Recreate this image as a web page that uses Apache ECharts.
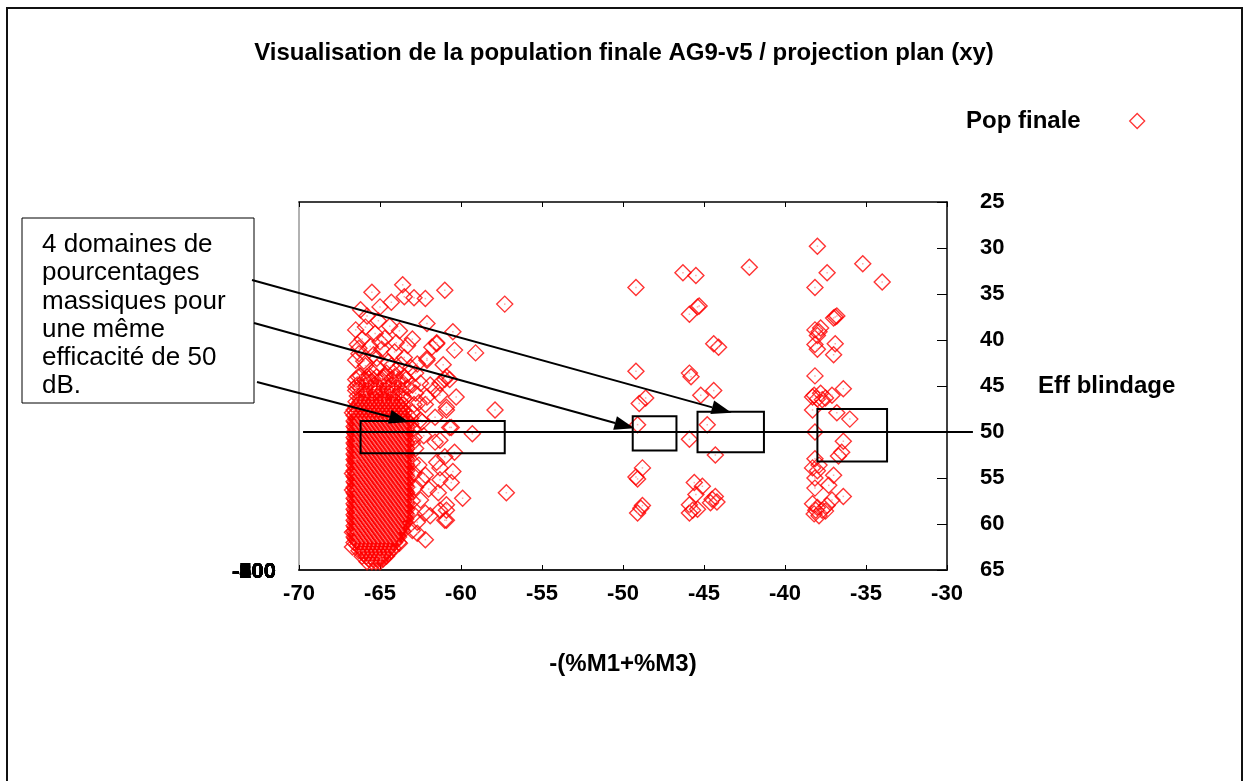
<!DOCTYPE html>
<html>
<head>
<meta charset="utf-8">
<script src="https://cdn.jsdelivr.net/npm/echarts@6/dist/echarts.min.js"></script>
<style>
  html, body { margin: 0; padding: 0; background: #ffffff; }
  #chart { width: 1248px; height: 781px; }
</style>
</head>
<body>
<div id="chart"></div>
<script>
// ---- texts ----
const chartTitle = 'Visualisation de la population finale AG9-v5 / projection plan (xy)';
const seriesName = 'Pop finale';
const xAxisName = '-(%M1+%M3)';
const yAxisName = 'Eff blindage';
const noteLines = ['4 domaines de', 'pourcentages', 'massiques pour', 'une même', 'efficacité de 50', 'dB.'];
const leftAxisLabels = ['-100', '-200', '-300', '-400', '-500', '-600', '-700', '-800', '-900'];

// ---- axes ----
const xRange = [-70, -30];
const xStep = 5;
const yRange = [25, 65];
const yStep = 5;
const targetEff = 50;

// ---- population: group around -(%M1+%M3) = -65, outer points ----
const groupA = [
  [-65.5, 34.8], [-63.6, 34.0], [-61.0, 34.6], [-63.5, 35.3], [-62.9, 35.4], [-62.2, 35.5],
  [-64.3, 35.9], [-57.3, 36.1], [-65.0, 36.4], [-66.2, 36.7], [-62.1, 38.2], [-60.5, 39.1],
  [-63.0, 39.9], [-61.5, 40.3], [-64.0, 40.3], [-59.1, 41.4], [-62.1, 42.2], [-61.1, 42.7],
  [-60.9, 44.0], [-62.5, 44.7], [-61.3, 44.7], [-60.7, 44.3], [-61.6, 45.4], [-62.1, 46.2],
  [-60.3, 46.2], [-57.9, 47.6], [-60.9, 47.3], [-61.6, 48.4], [-60.7, 49.5], [-59.3, 50.2],
  [-61.6, 51.1], [-63.0, 51.2], [-61.0, 52.7], [-61.5, 53.3], [-60.5, 54.3], [-61.3, 55.2],
  [-62.4, 55.2], [-59.9, 57.2], [-57.2, 56.6], [-60.9, 58.5], [-61.3, 58.5], [-62.2, 58.8],
  [-60.9, 59.6], [-62.7, 61.0], [-63.8, 62.1], [-65.0, 63.6], [-65.8, 64.1],
  [-66.7, 62.5], [-66.7, 60.9], [-66.5, 58.8], [-66.7, 56.3], [-66.7, 54.5], [-66.5, 53.0],
  [-66.5, 51.1], [-66.7, 47.9], [-66.5, 45.1], [-66.5, 42.2], [-66.4, 40.5], [-66.5, 38.9],
  [-61.5, 40.4], [-60.4, 41.1], [-62.7, 42.6], [-61.8, 40.8], [-62.1, 42.0], [-61.0, 44.3],
  [-61.9, 44.9], [-61.3, 46.0], [-62.2, 47.0], [-60.9, 47.6], [-62.5, 48.7], [-60.6, 49.5],
  [-61.3, 50.9], [-60.4, 52.2], [-61.3, 53.9], [-62.2, 54.7], [-60.6, 55.5], [-61.4, 56.6],
  [-62.5, 57.4], [-60.9, 57.9], [-61.9, 59.1], [-61.0, 59.6], [-63.0, 60.7], [-62.2, 61.7],
  [-65.8, 37.4], [-65.1, 37.9], [-64.4, 38.5], [-65.9, 38.6], [-63.8, 39.0], [-65.3, 39.3],
  [-64.7, 39.8], [-66.1, 39.9], [-63.3, 40.6], [-65.6, 40.7], [-64.9, 41.0], [-64.1, 41.3],
  [-66.3, 41.5], [-63.5, 41.9], [-65.2, 42.0], [-64.5, 42.4], [-65.9, 42.8], [-63.1, 43.0],
  [-64.0, 43.3], [-65.5, 43.5], [-66.2, 43.9], [-64.8, 44.1], [-63.4, 44.3], [-62.8, 43.6],
  [-62.4, 48.9], [-62.6, 46.8], [-62.3, 50.4], [-62.6, 53.6], [-62.0, 56.2], [-62.7, 59.8],
  [-66.0, 42.3], [-65.4, 41.6], [-64.6, 43.6], [-65.7, 44.2], [-66.3, 40.9], [-65.0, 40.2],
  [-64.3, 42.8], [-65.2, 43.0], [-63.7, 42.7]
];

// ---- population: dense core of the -65 group, one row per Eff blindage level ----
const groupACoreRows = [
  [44.0, [-66.35, -65.8, -65.2, -64.7, -64.1, -63.5]],
  [44.3, [-66.5, -65.9, -65.4, -64.9, -64.3, -63.8]],
  [44.6, [-66.1, -65.6, -65.0, -64.5, -63.9]],
  [44.9, [-66.4, -65.8, -65.3, -64.7, -64.2, -63.6, -63.0]],
  [45.2, [-66.2, -65.6, -65.1, -64.5, -64.0, -63.3]],
  [45.5, [-66.5, -65.9, -65.4, -64.8, -64.3, -63.7]],
  [45.8, [-66.1, -65.85, -65.3, -65.0, -64.4, -63.9, -62.8]],
  [46.1, [-66.4, -65.8, -65.5, -65.2, -64.7, -64.1, -63.6]],
  [46.4, [-66.2, -65.9, -65.5, -65.0, -64.75, -64.2, -63.55]],
  [46.7, [-66.48, -66.22, -65.98, -65.72, -65.48, -65.22, -64.98, -64.72, -64.48, -64.22, -63.98, -63.72]],
  [47.0, [-66.35, -66.1, -65.85, -65.6, -65.35, -65.1, -64.85, -64.6, -64.35, -64.1, -63.85, -63.6, -62.9]],
  [47.3, [-66.48, -66.22, -65.98, -65.72, -65.48, -65.22, -64.98, -64.72, -64.48, -64.22, -63.98, -63.72]],
  [47.6, [-66.6, -66.35, -66.1, -65.85, -65.6, -65.35, -65.1, -64.85, -64.6, -64.35, -64.1, -63.85, -63.6]],
  [47.9, [-66.48, -66.22, -65.98, -65.72, -65.48, -65.22, -64.98, -64.72, -64.48, -64.22, -63.98, -63.72, -63.48, -63.0]],
  [48.2, [-66.6, -66.35, -66.1, -65.85, -65.6, -65.35, -65.1, -64.85, -64.6, -64.35, -64.1, -63.85, -63.6]],
  [48.5, [-66.48, -66.22, -65.98, -65.72, -65.48, -65.22, -64.98, -64.72, -64.48, -64.22, -63.98, -63.72, -63.48, -63.1]],
  [48.8, [-66.6, -66.35, -66.1, -65.85, -65.6, -65.35, -65.1, -64.85, -64.6, -64.35, -64.1, -63.85, -63.6, -63.35]],
  [49.1, [-66.48, -66.22, -65.98, -65.72, -65.48, -65.22, -64.98, -64.72, -64.48, -64.22, -63.98, -63.72, -63.48, -63.1]],
  [49.4, [-66.6, -66.35, -66.1, -65.85, -65.6, -65.35, -65.1, -64.85, -64.6, -64.35, -64.1, -63.85, -63.6, -63.35]],
  [49.7, [-66.48, -66.22, -65.98, -65.72, -65.48, -65.22, -64.98, -64.72, -64.48, -64.22, -63.98, -63.72, -63.48, -63.0]],
  [50.0, [-66.6, -66.35, -66.1, -65.85, -65.6, -65.35, -65.1, -64.85, -64.6, -64.35, -64.1, -63.85, -63.6, -63.35]],
  [50.3, [-66.48, -66.22, -65.98, -65.72, -65.48, -65.22, -64.98, -64.72, -64.48, -64.22, -63.98, -63.72, -63.48]],
  [50.6, [-66.6, -66.35, -66.1, -65.85, -65.6, -65.35, -65.1, -64.85, -64.6, -64.35, -64.1, -63.85, -63.6, -63.35, -62.9]],
  [50.9, [-66.48, -66.22, -65.98, -65.72, -65.48, -65.22, -64.98, -64.72, -64.48, -64.22, -63.98, -63.72, -63.48]],
  [51.2, [-66.6, -66.35, -66.1, -65.85, -65.6, -65.35, -65.1, -64.85, -64.6, -64.35, -64.1, -63.85, -63.6, -63.35]],
  [51.5, [-66.48, -66.22, -65.98, -65.72, -65.48, -65.22, -64.98, -64.72, -64.48, -64.22, -63.98, -63.72, -63.48]],
  [51.8, [-66.6, -66.35, -66.1, -65.85, -65.6, -65.35, -65.1, -64.85, -64.6, -64.35, -64.1, -63.85, -63.6, -63.35, -62.8]],
  [52.1, [-66.48, -66.22, -65.98, -65.72, -65.48, -65.22, -64.98, -64.72, -64.48, -64.22, -63.98, -63.72, -63.48]],
  [52.4, [-66.6, -66.35, -66.1, -65.85, -65.6, -65.35, -65.1, -64.85, -64.6, -64.35, -64.1, -63.85, -63.6, -63.35]],
  [52.7, [-66.48, -66.22, -65.98, -65.72, -65.48, -65.22, -64.98, -64.72, -64.48, -64.22, -63.98, -63.72, -63.48]],
  [53.0, [-66.6, -66.35, -66.1, -65.85, -65.6, -65.35, -65.1, -64.85, -64.6, -64.35, -64.1, -63.85, -63.6, -63.35]],
  [53.3, [-66.48, -66.22, -65.98, -65.72, -65.48, -65.22, -64.98, -64.72, -64.48, -64.22, -63.98, -63.72, -63.48, -63.0]],
  [53.6, [-66.6, -66.35, -66.1, -65.85, -65.6, -65.35, -65.1, -64.85, -64.6, -64.35, -64.1, -63.85, -63.6, -63.35]],
  [53.9, [-66.48, -66.22, -65.98, -65.72, -65.48, -65.22, -64.98, -64.72, -64.48, -64.22, -63.98, -63.72, -63.48]],
  [54.2, [-66.6, -66.35, -66.1, -65.85, -65.6, -65.35, -65.1, -64.85, -64.6, -64.35, -64.1, -63.85, -63.6, -63.35]],
  [54.5, [-66.48, -66.22, -65.98, -65.72, -65.48, -65.22, -64.98, -64.72, -64.48, -64.22, -63.98, -63.72, -63.48, -62.9]],
  [54.8, [-66.6, -66.35, -66.1, -65.85, -65.6, -65.35, -65.1, -64.85, -64.6, -64.35, -64.1, -63.85, -63.6, -63.35]],
  [55.1, [-66.48, -66.22, -65.98, -65.72, -65.48, -65.22, -64.98, -64.72, -64.48, -64.22, -63.98, -63.72, -63.48]],
  [55.4, [-66.6, -66.35, -66.1, -65.85, -65.6, -65.35, -65.1, -64.85, -64.6, -64.35, -64.1, -63.85, -63.6, -63.35]],
  [55.7, [-66.48, -66.22, -65.98, -65.72, -65.48, -65.22, -64.98, -64.72, -64.48, -64.22, -63.98, -63.72, -63.48]],
  [56.0, [-66.6, -66.35, -66.1, -65.85, -65.6, -65.35, -65.1, -64.85, -64.6, -64.35, -64.1, -63.85, -63.6, -63.35, -62.8]],
  [56.3, [-66.48, -66.22, -65.98, -65.72, -65.48, -65.22, -64.98, -64.72, -64.48, -64.22, -63.98, -63.72, -63.48]],
  [56.6, [-66.6, -66.35, -66.1, -65.85, -65.6, -65.35, -65.1, -64.85, -64.6, -64.35, -64.1, -63.85, -63.6, -63.35]],
  [56.9, [-66.48, -66.22, -65.98, -65.72, -65.48, -65.22, -64.98, -64.72, -64.48, -64.22, -63.98, -63.72, -63.48]],
  [57.2, [-66.6, -66.35, -66.1, -65.85, -65.6, -65.35, -65.1, -64.85, -64.6, -64.35, -64.1, -63.85, -63.6, -63.35]],
  [57.5, [-66.48, -66.22, -65.98, -65.72, -65.48, -65.22, -64.98, -64.72, -64.48, -64.22, -63.98, -63.72, -63.48, -63.0]],
  [57.8, [-66.6, -66.35, -66.1, -65.85, -65.6, -65.35, -65.1, -64.85, -64.6, -64.35, -64.1, -63.85, -63.6, -63.35]],
  [58.1, [-66.48, -66.22, -65.98, -65.72, -65.48, -65.22, -64.98, -64.72, -64.48, -64.22, -63.98, -63.72, -63.48]],
  [58.4, [-66.6, -66.35, -66.1, -65.85, -65.6, -65.35, -65.1, -64.85, -64.6, -64.35, -64.1, -63.85, -63.6, -63.35]],
  [58.7, [-66.48, -66.22, -65.98, -65.72, -65.48, -65.22, -64.98, -64.72, -64.48, -64.22, -63.98, -63.72, -63.48]],
  [59.0, [-66.6, -66.35, -66.1, -65.85, -65.6, -65.35, -65.1, -64.85, -64.6, -64.35, -64.1, -63.85, -63.6, -63.35, -62.9]],
  [59.3, [-66.48, -66.22, -65.98, -65.72, -65.48, -65.22, -64.98, -64.72, -64.48, -64.22, -63.98, -63.72, -63.48]],
  [59.6, [-66.6, -66.35, -66.1, -65.85, -65.6, -65.35, -65.1, -64.85, -64.6, -64.35, -64.1, -63.85, -63.6]],
  [59.9, [-66.48, -66.22, -65.98, -65.72, -65.48, -65.22, -64.98, -64.72, -64.48, -64.22, -63.98, -63.72, -63.48]],
  [60.2, [-66.6, -66.35, -66.1, -65.85, -65.6, -65.35, -65.1, -64.85, -64.6, -64.35, -64.1, -63.85, -63.6]],
  [60.5, [-66.48, -66.22, -65.98, -65.72, -65.48, -65.22, -64.98, -64.72, -64.48, -64.22, -63.98, -63.72]],
  [60.8, [-66.6, -66.35, -66.1, -65.85, -65.6, -65.35, -65.1, -64.85, -64.6, -64.35, -64.1, -63.85, -63.6]],
  [61.1, [-66.48, -66.22, -65.98, -65.72, -65.48, -65.22, -64.98, -64.72, -64.48, -64.22, -63.98]],
  [61.4, [-66.6, -66.35, -66.1, -65.85, -65.6, -65.35, -65.1, -64.85, -64.6, -64.35, -64.1, -63.85]],
  [61.7, [-66.48, -66.22, -65.98, -65.72, -65.48, -65.22, -64.98, -64.72, -64.48, -64.22, -63.98]],
  [62.0, [-66.6, -66.35, -66.1, -65.85, -65.6, -65.35, -65.1, -64.85, -64.6, -64.35, -64.1, -63.85]],
  [62.3, [-66.4, -66.15, -65.9, -65.65, -65.4, -65.15, -64.9, -64.65, -64.4]],
  [62.6, [-66.2, -65.95, -65.7, -65.45, -65.2, -64.95, -64.7, -64.45, -64.2]],
  [62.9, [-66.3, -66.05, -65.8, -65.55, -65.3, -65.05, -64.8, -64.55, -64.3]],
  [63.2, [-66.0, -65.75, -65.5, -65.25, -65.0, -64.75, -64.5]],
  [63.5, [-66.1, -65.85, -65.6, -65.35, -65.1, -64.85, -64.6]],
  [63.8, [-65.7, -65.45, -65.2, -64.95, -64.8]],
  [64.1, [-65.5, -65.25, -65.0]]
];

// ---- population: further members of the same core, between the levels above ----
const groupACoreRowsMid = [
  [48.65, [-66.41, -66.16, -65.91, -65.66, -65.41, -65.16, -64.91, -64.66, -64.41, -64.16, -63.91, -63.66, -63.41]],
  [48.95, [-66.54, -66.29, -66.04, -65.79, -65.54, -65.29, -65.04, -64.79, -64.54, -64.29, -64.04, -63.79, -63.54]],
  [49.25, [-66.41, -66.16, -65.91, -65.66, -65.41, -65.16, -64.91, -64.66, -64.41, -64.16, -63.91, -63.66, -63.41]],
  [49.55, [-66.54, -66.29, -66.04, -65.79, -65.54, -65.29, -65.04, -64.79, -64.54, -64.29, -64.04, -63.79, -63.54]],
  [49.85, [-66.41, -66.16, -65.91, -65.66, -65.41, -65.16, -64.91, -64.66, -64.41, -64.16, -63.91, -63.66, -63.41]],
  [50.15, [-66.54, -66.29, -66.04, -65.79, -65.54, -65.29, -65.04, -64.79, -64.54, -64.29, -64.04, -63.79, -63.54]],
  [50.45, [-66.41, -66.16, -65.91, -65.66, -65.41, -65.16, -64.91, -64.66, -64.41, -64.16, -63.91, -63.66, -63.41]],
  [50.75, [-66.54, -66.29, -66.04, -65.79, -65.54, -65.29, -65.04, -64.79, -64.54, -64.29, -64.04, -63.79, -63.54]],
  [51.05, [-66.41, -66.16, -65.91, -65.66, -65.41, -65.16, -64.91, -64.66, -64.41, -64.16, -63.91, -63.66, -63.41]],
  [51.35, [-66.54, -66.29, -66.04, -65.79, -65.54, -65.29, -65.04, -64.79, -64.54, -64.29, -64.04, -63.79, -63.54]],
  [51.65, [-66.41, -66.16, -65.91, -65.66, -65.41, -65.16, -64.91, -64.66, -64.41, -64.16, -63.91, -63.66, -63.41]],
  [51.95, [-66.54, -66.29, -66.04, -65.79, -65.54, -65.29, -65.04, -64.79, -64.54, -64.29, -64.04, -63.79, -63.54]],
  [52.25, [-66.41, -66.16, -65.91, -65.66, -65.41, -65.16, -64.91, -64.66, -64.41, -64.16, -63.91, -63.66, -63.41]],
  [52.55, [-66.54, -66.29, -66.04, -65.79, -65.54, -65.29, -65.04, -64.79, -64.54, -64.29, -64.04, -63.79, -63.54]],
  [52.85, [-66.41, -66.16, -65.91, -65.66, -65.41, -65.16, -64.91, -64.66, -64.41, -64.16, -63.91, -63.66, -63.41]],
  [53.15, [-66.54, -66.29, -66.04, -65.79, -65.54, -65.29, -65.04, -64.79, -64.54, -64.29, -64.04, -63.79, -63.54]],
  [53.45, [-66.41, -66.16, -65.91, -65.66, -65.41, -65.16, -64.91, -64.66, -64.41, -64.16, -63.91, -63.66, -63.41]],
  [53.75, [-66.54, -66.29, -66.04, -65.79, -65.54, -65.29, -65.04, -64.79, -64.54, -64.29, -64.04, -63.79, -63.54]],
  [54.05, [-66.41, -66.16, -65.91, -65.66, -65.41, -65.16, -64.91, -64.66, -64.41, -64.16, -63.91, -63.66, -63.41]],
  [54.35, [-66.54, -66.29, -66.04, -65.79, -65.54, -65.29, -65.04, -64.79, -64.54, -64.29, -64.04, -63.79, -63.54]],
  [54.65, [-66.41, -66.16, -65.91, -65.66, -65.41, -65.16, -64.91, -64.66, -64.41, -64.16, -63.91, -63.66, -63.41]],
  [54.95, [-66.54, -66.29, -66.04, -65.79, -65.54, -65.29, -65.04, -64.79, -64.54, -64.29, -64.04, -63.79, -63.54]],
  [55.25, [-66.41, -66.16, -65.91, -65.66, -65.41, -65.16, -64.91, -64.66, -64.41, -64.16, -63.91, -63.66, -63.41]],
  [55.55, [-66.54, -66.29, -66.04, -65.79, -65.54, -65.29, -65.04, -64.79, -64.54, -64.29, -64.04, -63.79, -63.54]],
  [55.85, [-66.41, -66.16, -65.91, -65.66, -65.41, -65.16, -64.91, -64.66, -64.41, -64.16, -63.91, -63.66, -63.41]],
  [56.15, [-66.54, -66.29, -66.04, -65.79, -65.54, -65.29, -65.04, -64.79, -64.54, -64.29, -64.04, -63.79, -63.54]],
  [56.45, [-66.41, -66.16, -65.91, -65.66, -65.41, -65.16, -64.91, -64.66, -64.41, -64.16, -63.91, -63.66, -63.41]],
  [56.75, [-66.54, -66.29, -66.04, -65.79, -65.54, -65.29, -65.04, -64.79, -64.54, -64.29, -64.04, -63.79, -63.54]],
  [57.05, [-66.41, -66.16, -65.91, -65.66, -65.41, -65.16, -64.91, -64.66, -64.41, -64.16, -63.91, -63.66, -63.41]],
  [57.35, [-66.54, -66.29, -66.04, -65.79, -65.54, -65.29, -65.04, -64.79, -64.54, -64.29, -64.04, -63.79, -63.54]],
  [57.65, [-66.41, -66.16, -65.91, -65.66, -65.41, -65.16, -64.91, -64.66, -64.41, -64.16, -63.91, -63.66, -63.41]],
  [57.95, [-66.54, -66.29, -66.04, -65.79, -65.54, -65.29, -65.04, -64.79, -64.54, -64.29, -64.04, -63.79, -63.54]],
  [58.25, [-66.41, -66.16, -65.91, -65.66, -65.41, -65.16, -64.91, -64.66, -64.41, -64.16, -63.91, -63.66, -63.41]],
  [58.55, [-66.54, -66.29, -66.04, -65.79, -65.54, -65.29, -65.04, -64.79, -64.54, -64.29, -64.04, -63.79, -63.54]],
  [58.85, [-66.41, -66.16, -65.91, -65.66, -65.41, -65.16, -64.91, -64.66, -64.41, -64.16, -63.91, -63.66, -63.41]],
  [59.15, [-66.54, -66.29, -66.04, -65.79, -65.54, -65.29, -65.04, -64.79, -64.54, -64.29, -64.04, -63.79, -63.54]],
  [59.45, [-66.41, -66.16, -65.91, -65.66, -65.41, -65.16, -64.91, -64.66, -64.41, -64.16, -63.91, -63.66, -63.41]],
  [59.75, [-66.54, -66.29, -66.04, -65.79, -65.54, -65.29, -65.04, -64.79, -64.54, -64.29, -64.04, -63.79]],
  [60.05, [-66.41, -66.16, -65.91, -65.66, -65.41, -65.16, -64.91, -64.66, -64.41, -64.16, -63.91, -63.66]],
  [60.35, [-66.54, -66.29, -66.04, -65.79, -65.54, -65.29, -65.04, -64.79, -64.54, -64.29, -64.04, -63.79]],
  [60.65, [-66.41, -66.16, -65.91, -65.66, -65.41, -65.16, -64.91, -64.66, -64.41, -64.16, -63.91, -63.66]],
  [60.95, [-66.54, -66.29, -66.04, -65.79, -65.54, -65.29, -65.04, -64.79, -64.54, -64.29, -64.04]],
  [61.25, [-66.41, -66.16, -65.91, -65.66, -65.41, -65.16, -64.91, -64.66, -64.41, -64.16, -63.91]],
  [61.55, [-66.54, -66.29, -66.04, -65.79, -65.54, -65.29, -65.04, -64.79, -64.54, -64.29, -64.04]],
  [61.85, [-66.41, -66.16, -65.91, -65.66, -65.41, -65.16, -64.91, -64.66, -64.41, -64.16]]
];

// ---- population: groups around -49 and -45 ----
const groupB = [
  [-49.2, 34.3], [-46.3, 32.7], [-45.5, 33.0], [-42.2, 32.1], [-45.4, 36.4], [-45.3, 36.3],
  [-45.9, 37.2], [-44.4, 40.4], [-44.1, 40.8], [-49.2, 43.4], [-45.9, 43.6], [-45.8, 44.0],
  [-44.4, 45.5], [-45.2, 46.0], [-48.6, 46.3], [-49.0, 46.9], [-49.1, 49.2], [-44.8, 49.2],
  [-45.9, 50.8], [-44.3, 52.5], [-48.8, 53.9], [-49.2, 54.9], [-49.1, 55.1], [-45.6, 55.5],
  [-45.1, 55.9], [-45.5, 56.8], [-44.3, 57.0], [-44.6, 57.7], [-45.9, 57.9], [-45.9, 58.8],
  [-48.8, 58.0], [-49.1, 58.8], [-44.2, 57.6], [-45.4, 58.4], [-48.9, 58.3], [-45.7, 58.5],
  [-44.5, 57.3]
];

// ---- population: group around -38 ----
const groupC = [
  [-38.0, 29.8], [-35.2, 31.7], [-34.0, 33.7], [-37.4, 32.7], [-38.15, 34.3], [-36.9, 37.5],
  [-36.8, 37.4], [-37.0, 37.6], [-38.15, 38.9], [-37.8, 38.7], [-38.0, 39.5], [-37.9, 39.1],
  [-38.15, 40.5], [-36.9, 40.4], [-37.0, 41.6], [-38.0, 41.0], [-38.15, 43.9], [-36.4, 45.3],
  [-38.3, 46.2], [-38.0, 46.4], [-37.7, 46.5], [-38.2, 46.0], [-37.8, 45.8], [-37.5, 46.3],
  [-37.1, 46.0], [-36.8, 47.9], [-36.0, 48.6], [-38.3, 47.6], [-38.15, 50.0], [-36.4, 51.0],
  [-36.5, 52.2], [-36.7, 52.6], [-38.15, 52.9], [-38.3, 53.9], [-38.0, 54.2], [-37.9, 53.6],
  [-38.15, 55.0], [-37.0, 54.7], [-37.3, 55.8], [-36.4, 57.0], [-37.1, 57.4], [-38.15, 56.1],
  [-38.3, 57.8], [-38.0, 58.2], [-37.7, 58.5], [-38.2, 58.9], [-37.9, 59.1], [-37.5, 58.6],
  [-37.4, 58.0], [-38.1, 58.5]
];

// ---- the four domains at 50 dB: [xMin, xMax, yMin, yMax] ----
const domains = [
  [-66.2, -57.3, 48.8, 52.3],
  [-49.4, -46.7, 48.3, 52.0],
  [-45.4, -41.3, 47.8, 52.2],
  [-38.0, -33.7, 47.5, 53.2]
];
// arrow tips, one per pointed domain
const arrowTips = [[-43.3, 47.9], [-49.3, 49.6], [-63.2, 48.9]];
// span of the 50 dB reference line
const refLineX = [-69.75, -28.4];

const coreA = [];
groupACoreRows.concat(groupACoreRowsMid).forEach(function (row) {
  row[1].forEach(function (x) { coreA.push([x, row[0]]); });
});
const population = groupA.concat(coreA, groupB, groupC);

const RED = '#ff0000';
const FONT = '"Liberation Sans", Arial, sans-serif';

const chart = echarts.init(document.getElementById('chart'), null, { renderer: 'canvas' });

const option = {
  backgroundColor: '#ffffff',
  animation: false,
  textStyle: { fontFamily: FONT },
  title: {
    text: chartTitle,
    left: 'center',
    top: 36,
    textStyle: { fontFamily: FONT, fontSize: 24, fontWeight: 'bold', color: '#000' }
  },
  legend: {
    data: [seriesName],
    left: 966,
    top: 109,
    padding: 0,
    align: 'right',
    icon: 'diamond',
    itemWidth: 15,
    itemHeight: 15,
    itemStyle: { color: 'transparent', borderColor: RED, borderWidth: 1.3 },
    textStyle: {
      fontFamily: FONT, fontSize: 24, fontWeight: 'bold', color: '#000',
      padding: [0, 44, 0, 0]
    },
    selectedMode: false
  },
  grid: { left: 299, top: 202, width: 648, height: 368, show: false },
  xAxis: [
    {
      type: 'value', position: 'bottom', min: xRange[0], max: xRange[1], interval: xStep,
      name: xAxisName, nameLocation: 'middle', nameGap: 82,
      nameTextStyle: { fontFamily: FONT, fontSize: 24, fontWeight: 'bold', color: '#000' },
      axisLine: { show: true, onZero: false, lineStyle: { color: '#222', width: 2 } },
      axisTick: { show: true, inside: true, length: 5, lineStyle: { color: '#000' } },
      axisLabel: { fontFamily: FONT, fontSize: 22, fontWeight: 'bold', color: '#000', margin: 13 },
      splitLine: { show: false }
    },
    {
      type: 'value', position: 'top', min: xRange[0], max: xRange[1], interval: xStep,
      axisLine: { show: true, onZero: false, lineStyle: { color: '#000', width: 1.5 } },
      axisTick: { show: true, inside: true, length: 5, lineStyle: { color: '#000' } },
      axisLabel: { show: false },
      splitLine: { show: false }
    }
  ],
  yAxis: [
    {
      type: 'value', position: 'right', inverse: true, min: yRange[0], max: yRange[1], interval: yStep,
      name: yAxisName, nameLocation: 'middle', nameRotate: 0, nameGap: 91,
      nameTextStyle: { fontFamily: FONT, fontSize: 24, fontWeight: 'bold', color: '#000', align: 'left' },
      axisLine: { show: true, onZero: false, lineStyle: { color: '#000', width: 1.5 } },
      axisTick: { show: true, inside: true, length: 10, lineStyle: { color: '#000' } },
      axisLabel: { fontFamily: FONT, fontSize: 22, fontWeight: 'bold', color: '#000', margin: 33 },
      splitLine: { show: false }
    },
    {
      type: 'value', position: 'left', min: 0, max: 1,
      axisLine: { show: true, onZero: false, lineStyle: { color: '#999', width: 1.5 } },
      axisTick: { show: false },
      axisLabel: { show: false },
      splitLine: { show: false }
    }
  ],
  series: [
    {
      name: seriesName,
      type: 'scatter',
      xAxisIndex: 0, yAxisIndex: 0,
      symbol: 'diamond',
      symbolSize: 16,
      large: false,
      largeThreshold: 100000,
      progressive: 0,
      itemStyle: { color: 'transparent', borderColor: RED, borderWidth: 1.4 },
      emphasis: { disabled: true },
      data: population,
      z: 2
    },
    {
      name: 'centres',
      type: 'scatter',
      xAxisIndex: 0, yAxisIndex: 0,
      symbol: 'rect',
      symbolSize: 1.5,
      silent: true,
      large: false,
      largeThreshold: 100000,
      progressive: 0,
      itemStyle: { color: '#ff9090' },
      data: population,
      z: 2
    }
  ]
};

chart.setOption(option);

// ---- annotations: outer frame, stacked left labels, note box, domains, 50 dB line, arrows ----
function px(p) {
  return chart.convertToPixel({ xAxisIndex: 0, yAxisIndex: 0 }, p);
}

const graphics = [];

graphics.push({
  type: 'rect', silent: true, z: 0,
  shape: { x: 7, y: 8, width: 1235, height: 790 },
  style: { fill: 'none', stroke: '#111', lineWidth: 2 }
});

leftAxisLabels.forEach(function (t) {
  graphics.push({
    type: 'text', silent: true, z: 10,
    x: 276, y: 572,
    style: {
      text: t, fill: '#000', font: 'bold 22px ' + FONT,
      align: 'right', verticalAlign: 'middle'
    }
  });
});

const noteBox = { x: 22, y: 218, w: 232, h: 185 };
graphics.push({
  type: 'rect', silent: true, z: 10,
  shape: { x: noteBox.x, y: noteBox.y, width: noteBox.w, height: noteBox.h },
  style: { fill: '#fff', stroke: '#000', lineWidth: 1 }
});
graphics.push({
  type: 'text', silent: true, z: 11,
  x: noteBox.x + 20, y: noteBox.y + 13,
  style: {
    text: noteLines.join('\n'), fill: '#000',
    font: '26px ' + FONT, lineHeight: 28.2,
    align: 'left', verticalAlign: 'top'
  }
});

// the four domains
domains.forEach(function (d) {
  const a = px([d[0], d[2]]);
  const b = px([d[1], d[3]]);
  graphics.push({
    type: 'rect', silent: true, z: 12,
    shape: { x: Math.min(a[0], b[0]), y: Math.min(a[1], b[1]), width: Math.abs(b[0] - a[0]), height: Math.abs(b[1] - a[1]) },
    style: { fill: 'none', stroke: '#000', lineWidth: 2 }
  });
});

// 50 dB reference line
const lineA = px([refLineX[0], targetEff]);
const lineB = px([refLineX[1], targetEff]);
graphics.push({
  type: 'line', silent: true, z: 12,
  shape: { x1: lineA[0], y1: lineA[1], x2: lineB[0], y2: lineB[1] },
  style: { stroke: '#000', lineWidth: 2 }
});

// arrows from the note box to the domains
const arrowStarts = [[252, 280], [254, 323], [257, 382]];
arrowTips.forEach(function (tip, i) {
  const s = arrowStarts[i];
  const t = px(tip);
  const dx = t[0] - s[0], dy = t[1] - s[1];
  const len = Math.sqrt(dx * dx + dy * dy);
  const ux = dx / len, uy = dy / len;
  const headLen = 20, headHalf = 7;
  const bx = t[0] - ux * headLen, by = t[1] - uy * headLen;
  graphics.push({
    type: 'line', silent: true, z: 12,
    shape: { x1: s[0], y1: s[1], x2: bx, y2: by },
    style: { stroke: '#000', lineWidth: 2 }
  });
  graphics.push({
    type: 'polygon', silent: true, z: 12,
    shape: { points: [[t[0], t[1]], [bx - uy * headHalf, by + ux * headHalf], [bx + uy * headHalf, by - ux * headHalf]] },
    style: { fill: '#000' }
  });
});

chart.setOption({ graphic: graphics });
</script>
</body>
</html>
